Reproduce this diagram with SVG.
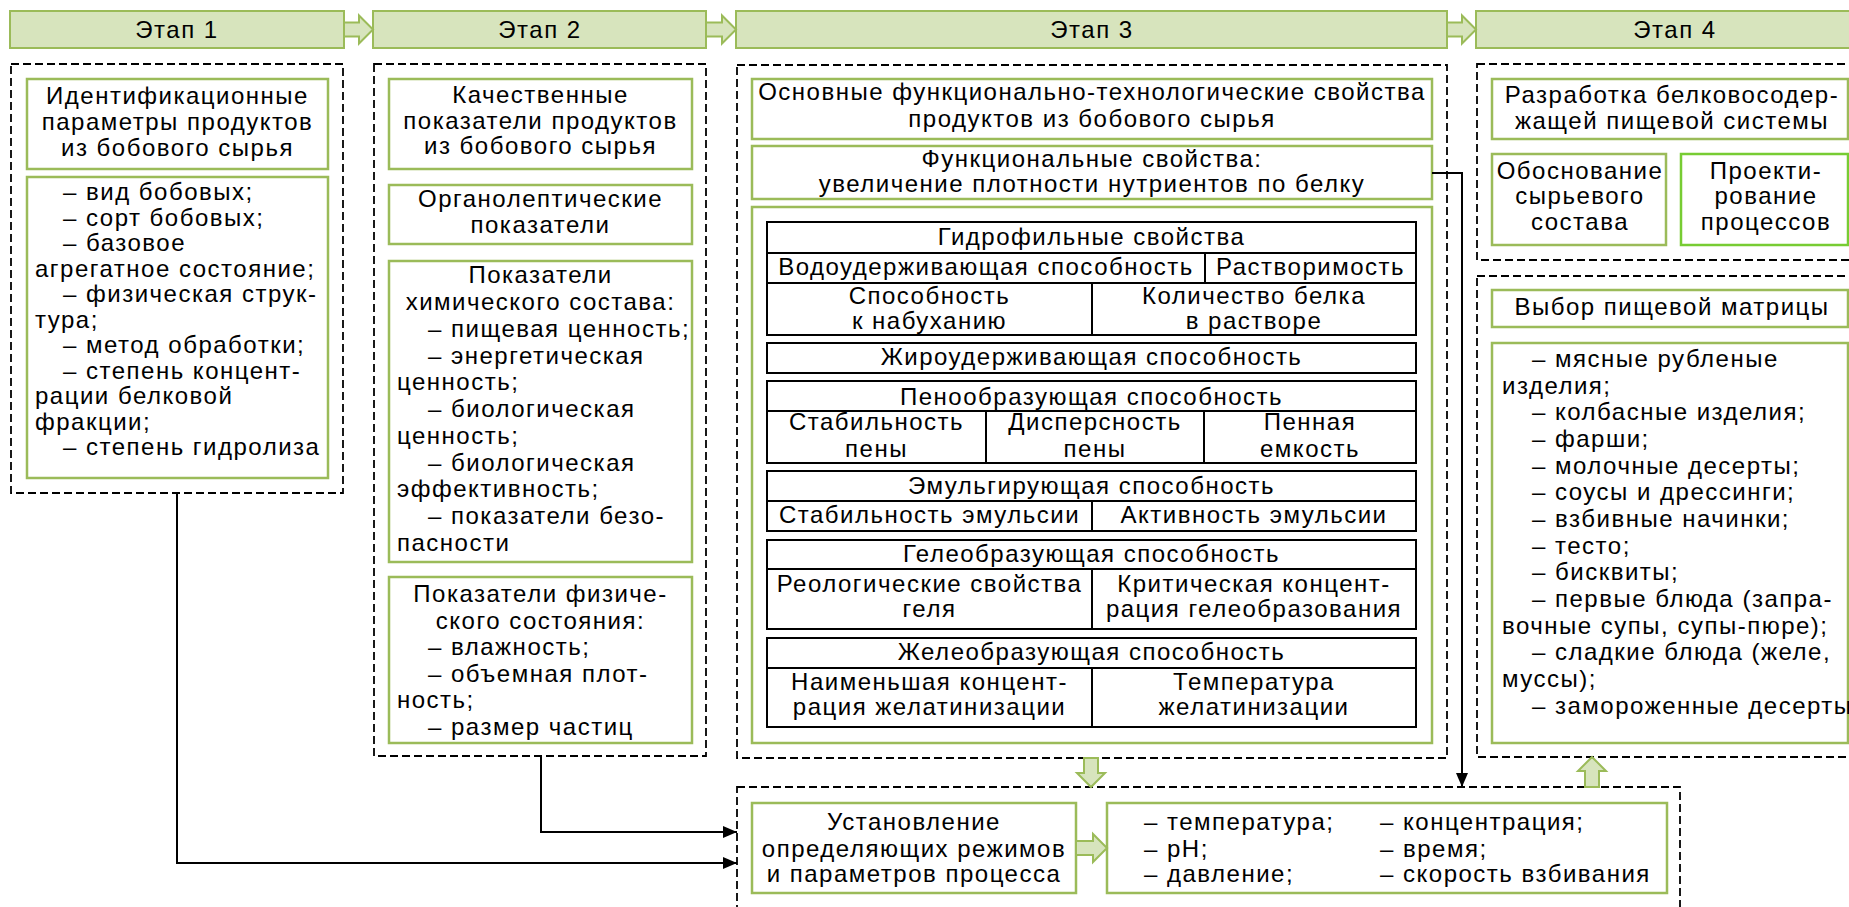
<svg xmlns="http://www.w3.org/2000/svg" width="1849" height="907" viewBox="0 0 1849 907">
<defs>
<marker id="ah" viewBox="0 0 14 12" refX="14" refY="6" markerWidth="14" markerHeight="12" markerUnits="userSpaceOnUse" orient="auto">
<path d="M0,0 L14,6 L0,12 Z" fill="#000"/>
</marker>
<style>
text{font-family:"Liberation Sans",Arial,sans-serif;font-size:24px;letter-spacing:1.5px;fill:#000}
.c{text-anchor:middle}
.bar{fill:#d7e4bd;stroke:#9bbb59;stroke-width:2}
.g{fill:#fff;stroke:#9bbb59;stroke-width:2.5}
.g2{fill:#fff;stroke:#77cc33;stroke-width:2.5}
.d{fill:none;stroke:#000;stroke-width:1.8;stroke-dasharray:8 4}
.t{fill:none;stroke:#000;stroke-width:2}
.ga{fill:#d7e4bd;stroke:#9bbb59;stroke-width:2}
.cn{fill:none;stroke:#000;stroke-width:2;marker-end:url(#ah)}
</style>
</defs>
<rect width="1849" height="907" fill="#fff"/>

<g id="stage-bars">
<rect class="bar" x="10" y="11" width="334" height="37"/>
<text class="c" x="177" y="38">Этап 1</text>
<rect class="bar" x="373" y="11" width="333" height="37"/>
<text class="c" x="540" y="38">Этап 2</text>
<rect class="bar" x="736" y="11" width="711" height="37"/>
<text class="c" x="1092" y="38">Этап 3</text>
<rect class="bar" x="1476" y="11" width="400" height="37"/>
<text class="c" x="1675" y="38">Этап 4</text>
<path class="ga" d="M344,22.5 L359,22.5 L359,15.5 L373,29.5 L359,43.5 L359,36.5 L344,36.5 Z"/>
<path class="ga" d="M706,22.5 L722,22.5 L722,15.5 L736,29.5 L722,43.5 L722,36.5 L706,36.5 Z"/>
<path class="ga" d="M1447,22.5 L1462,22.5 L1462,15.5 L1476,29.5 L1462,43.5 L1462,36.5 L1447,36.5 Z"/>
</g>

<g id="stage1">
<rect class="d" x="11" y="64" width="332" height="429"/>
<rect class="g" x="27" y="79" width="301" height="90"/>
<text class="c" x="177.5" y="104">Идентификационные</text>
<text class="c" x="177.5" y="130">параметры продуктов</text>
<text class="c" x="177.5" y="156">из бобового сырья</text>
<rect class="g" x="27" y="177" width="301" height="301"/>
<text x="63" y="200">– вид бобовых;</text>
<text x="63" y="225.5">– сорт бобовых;</text>
<text x="63" y="251">– базовое</text>
<text x="35" y="276.5">агрегатное состояние;</text>
<text x="63" y="302">– физическая струк-</text>
<text x="35" y="327.5">тура;</text>
<text x="63" y="353">– метод обработки;</text>
<text x="63" y="378.5">– степень концент-</text>
<text x="35" y="404">рации белковой</text>
<text x="35" y="429.5">фракции;</text>
<text x="63" y="455">– степень гидролиза</text>
</g>

<g id="stage2">
<rect class="d" x="374" y="64" width="332" height="692"/>
<rect class="g" x="389" y="79" width="303" height="90"/>
<text class="c" x="540.5" y="103">Качественные</text>
<text class="c" x="540.5" y="129">показатели продуктов</text>
<text class="c" x="540.5" y="154">из бобового сырья</text>
<rect class="g" x="389" y="185" width="303" height="59"/>
<text class="c" x="540.5" y="207">Органолептические</text>
<text class="c" x="540.5" y="233">показатели</text>
<rect class="g" x="389" y="261" width="303" height="301"/>
<text class="c" x="540.5" y="283">Показатели</text>
<text class="c" x="540.5" y="310">химического состава:</text>
<text x="428" y="337">– пищевая ценность;</text>
<text x="428" y="364">– энергетическая</text>
<text x="397" y="390">ценность;</text>
<text x="428" y="417">– биологическая</text>
<text x="397" y="444">ценность;</text>
<text x="428" y="471">– биологическая</text>
<text x="397" y="497">эффективность;</text>
<text x="428" y="524">– показатели безо-</text>
<text x="397" y="551">пасности</text>
<rect class="g" x="389" y="577" width="303" height="166"/>
<text class="c" x="540.5" y="602">Показатели физиче-</text>
<text class="c" x="540.5" y="629">ского состояния:</text>
<text x="428" y="655">– влажность;</text>
<text x="428" y="682">– объемная плот-</text>
<text x="397" y="708">ность;</text>
<text x="428" y="735">– размер частиц</text>
</g>

<g id="stage3">
<rect class="d" x="737" y="65" width="710" height="693"/>
<rect class="g" x="752" y="79" width="680" height="60"/>
<text class="c" x="1092" y="100">Основные функционально-технологические свойства</text>
<text class="c" x="1092" y="127">продуктов из бобового сырья</text>
<rect class="g" x="752" y="146" width="680" height="53"/>
<text class="c" x="1092" y="167">Функциональные свойства:</text>
<text class="c" x="1092" y="192">увеличение плотности нутриентов по белку</text>
<rect class="g" x="752" y="207" width="680" height="536"/>
</g>

<g id="table-hydrophilic">
<rect class="t" x="767" y="222" width="649" height="113"/>
<path class="t" d="M767,253 H1416 M767,283 H1416 M1205,253 V283 M1092,283 V335"/>
<text class="c" x="1091.5" y="245">Гидрофильные свойства</text>
<text class="c" x="986" y="275">Водоудерживающая способность</text>
<text class="c" x="1310.5" y="275">Растворимость</text>
<text class="c" x="929.5" y="304">Способность</text>
<text class="c" x="929.5" y="329">к набуханию</text>
<text class="c" x="1254" y="304">Количество белка</text>
<text class="c" x="1254" y="329">в растворе</text>
</g>

<g id="table-fat">
<rect class="t" x="767" y="343" width="649" height="30"/>
<text class="c" x="1091.5" y="365">Жироудерживающая способность</text>
</g>

<g id="table-foam">
<rect class="t" x="767" y="381" width="649" height="82"/>
<path class="t" d="M767,411 H1416 M986,411 V463 M1204,411 V463"/>
<text class="c" x="1091.5" y="405">Пенообразующая способность</text>
<text class="c" x="876.5" y="430">Стабильность</text>
<text class="c" x="876.5" y="457">пены</text>
<text class="c" x="1095" y="430">Дисперсность</text>
<text class="c" x="1095" y="457">пены</text>
<text class="c" x="1310" y="430">Пенная</text>
<text class="c" x="1310" y="457">емкость</text>
</g>

<g id="table-emulsion">
<rect class="t" x="767" y="471" width="649" height="60"/>
<path class="t" d="M767,501 H1416 M1092,501 V531"/>
<text class="c" x="1091.5" y="494">Эмульгирующая способность</text>
<text class="c" x="929.5" y="523">Стабильность эмульсии</text>
<text class="c" x="1254" y="523">Активность эмульсии</text>
</g>

<g id="table-gel">
<rect class="t" x="767" y="540" width="649" height="89"/>
<path class="t" d="M767,569 H1416 M1092,569 V629"/>
<text class="c" x="1091.5" y="562">Гелеобразующая способность</text>
<text class="c" x="929.5" y="592">Реологические свойства</text>
<text class="c" x="929.5" y="617">геля</text>
<text class="c" x="1254" y="592">Критическая концент-</text>
<text class="c" x="1254" y="617">рация гелеобразования</text>
</g>

<g id="table-jelly">
<rect class="t" x="767" y="638" width="649" height="89"/>
<path class="t" d="M767,668 H1416 M1092,668 V727"/>
<text class="c" x="1091.5" y="660">Желеобразующая способность</text>
<text class="c" x="929.5" y="690">Наименьшая концент-</text>
<text class="c" x="929.5" y="715">рация желатинизации</text>
<text class="c" x="1254" y="690">Температура</text>
<text class="c" x="1254" y="715">желатинизации</text>
</g>

<g id="stage4-system">
<rect class="d" x="1477" y="64" width="400" height="196"/>
<rect class="g" x="1492" y="79" width="356" height="60"/>
<text class="c" x="1672" y="103">Разработка белковосодер-</text>
<text class="c" x="1672" y="129">жащей пищевой системы</text>
<rect class="g" x="1492" y="154" width="174" height="91"/>
<text class="c" x="1580" y="179">Обоснование</text>
<text class="c" x="1580" y="204">сырьевого</text>
<text class="c" x="1580" y="230">состава</text>
<rect class="g2" x="1681" y="154" width="167" height="91"/>
<text class="c" x="1766" y="179">Проекти-</text>
<text class="c" x="1766" y="204">рование</text>
<text class="c" x="1766" y="230">процессов</text>
</g>

<g id="stage4-matrix">
<rect class="d" x="1477" y="276" width="400" height="481"/>
<rect class="g" x="1492" y="290" width="356" height="37"/>
<text class="c" x="1672" y="315">Выбор пищевой матрицы</text>
<rect class="g" x="1492" y="343" width="356" height="400"/>
<text x="1532" y="367">– мясные рубленые</text>
<text x="1502" y="393.7">изделия;</text>
<text x="1532" y="420.3">– колбасные изделия;</text>
<text x="1532" y="447">– фарши;</text>
<text x="1532" y="473.7">– молочные десерты;</text>
<text x="1532" y="500.3">– соусы и дрессинги;</text>
<text x="1532" y="527">– взбивные начинки;</text>
<text x="1532" y="553.7">– тесто;</text>
<text x="1532" y="580.3">– бисквиты;</text>
<text x="1532" y="607">– первые блюда (запра-</text>
<text x="1502" y="633.7">вочные супы, супы-пюре);</text>
<text x="1532" y="660.3">– сладкие блюда (желе,</text>
<text x="1502" y="687">муссы);</text>
<text x="1532" y="713.7">– замороженные десерты</text>
</g>

<g id="process">
<rect class="d" x="737" y="787" width="943" height="140"/>
<rect class="g" x="752" y="803" width="324" height="90"/>
<text class="c" x="914" y="830">Установление</text>
<text class="c" x="914" y="857">определяющих режимов</text>
<text class="c" x="914" y="882">и параметров процесса</text>
<rect class="g" x="1107" y="803" width="560" height="90"/>
<text x="1144" y="830">– температура;</text>
<text x="1144" y="857">– pH;</text>
<text x="1144" y="882">– давление;</text>
<text x="1380" y="830">– концентрация;</text>
<text x="1380" y="857">– время;</text>
<text x="1380" y="882">– скорость взбивания</text>
</g>

<g id="connectors">
<path class="cn" d="M177,493 V863 H737"/>
<path class="cn" d="M541,756 V832 H737"/>
<path class="cn" d="M1432,173 H1462 V787"/>
<path class="ga" d="M1084,758 L1098,758 L1098,773 L1105,773 L1091,787 L1077,773 L1084,773 Z"/>
<path class="ga" d="M1585,787 L1599,787 L1599,771 L1606,771 L1592,757 L1578,771 L1585,771 Z"/>
<path class="ga" d="M1076,841 L1093,841 L1093,834 L1107,848 L1093,862 L1093,855 L1076,855 Z"/>
</g>
</svg>
